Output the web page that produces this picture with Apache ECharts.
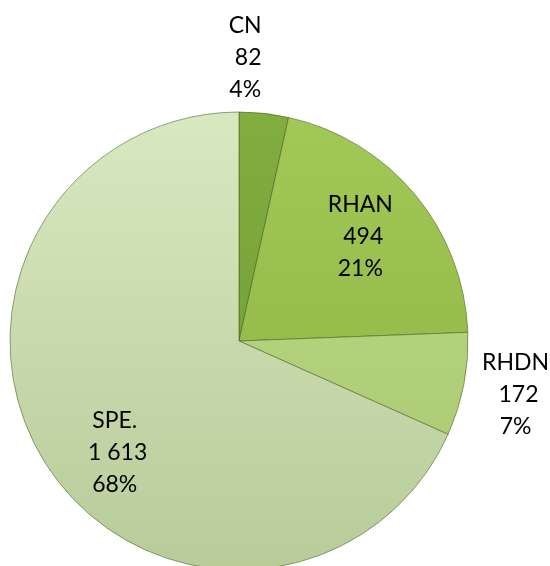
<!DOCTYPE html>
<html>
<head>
<meta charset="utf-8">
<script src="https://cdn.jsdelivr.net/npm/echarts@6/dist/echarts.min.js"></script>
<style>
html,body{margin:0;padding:0;background:#fff;}
#chart{width:550px;height:566px;}
</style>
</head>
<body>
<div id="chart"></div>
<script>
// ---- data ----
const categories = ['CN', 'RHAN', 'RHDN', 'SPE.'];
const values = [82, 494, 172, 1613];
const valueLabels = ['82', '494', '172', '1 613'];
const percentLabels = ['4%', '21%', '7%', '68%'];

// ---- styling ----
const CX = 239, CY = 341, R = 229;
const labelRadiusFactor = [1.24, 0.70, 1.23, 0.73];
const labelAngleShift = [-5, -1, 0, -9]; // degrees
const sliceColors = [
  ['#82ad3f', '#6c9832'],
  ['#a2c957', '#8bb240'],
  ['#bedb86', '#a8c76f'],
  ['#d8e9c0', '#b8cb99']
];

const total = values.reduce((a, b) => a + b, 0);
const midAngles = [];
let acc = 0;
values.forEach(v => { midAngles.push((acc + v / 2) / total * 2 * Math.PI); acc += v; });

function grad(c) {
  return {
    type: 'linear', x: 0, y: CY - R, x2: 0, y2: CY + R, global: true,
    colorStops: [{offset: 0, color: c[0]}, {offset: 1, color: c[1]}]
  };
}

const chart = echarts.init(document.getElementById('chart'), null, {renderer: 'canvas'});
chart.setOption({
  animation: false,
  backgroundColor: '#ffffff',
  series: [{
    type: 'pie',
    center: [CX, CY],
    radius: [0, R],
    startAngle: 90,
    clockwise: true,
    data: categories.map((n, i) => ({
      name: n,
      value: values[i],
      itemStyle: {color: grad(sliceColors[i])}
    })),
    itemStyle: {
      borderColor: 'rgba(70,90,30,0.55)',
      borderWidth: 1
    },
    label: {
      show: true,
      position: 'inside',
      color: '#000',
      fontFamily: 'Lato',
      fontSize: 23,
      lineHeight: 32,
      align: 'center',
      formatter: p => categories[p.dataIndex] + '\n ' + valueLabels[p.dataIndex] + '\n' + percentLabels[p.dataIndex]
    },
    labelLine: {show: false},
    labelLayout: function (p) {
      const i = p.dataIndex;
      const a = midAngles[i] + labelAngleShift[i] * Math.PI / 180;
      const rr = R * labelRadiusFactor[i];
      return {
        x: CX + rr * Math.sin(a),
        y: CY - rr * Math.cos(a),
        align: 'center',
        verticalAlign: 'middle'
      };
    },
    emphasis: {disabled: true}
  }]
});
</script>
</body>
</html>
